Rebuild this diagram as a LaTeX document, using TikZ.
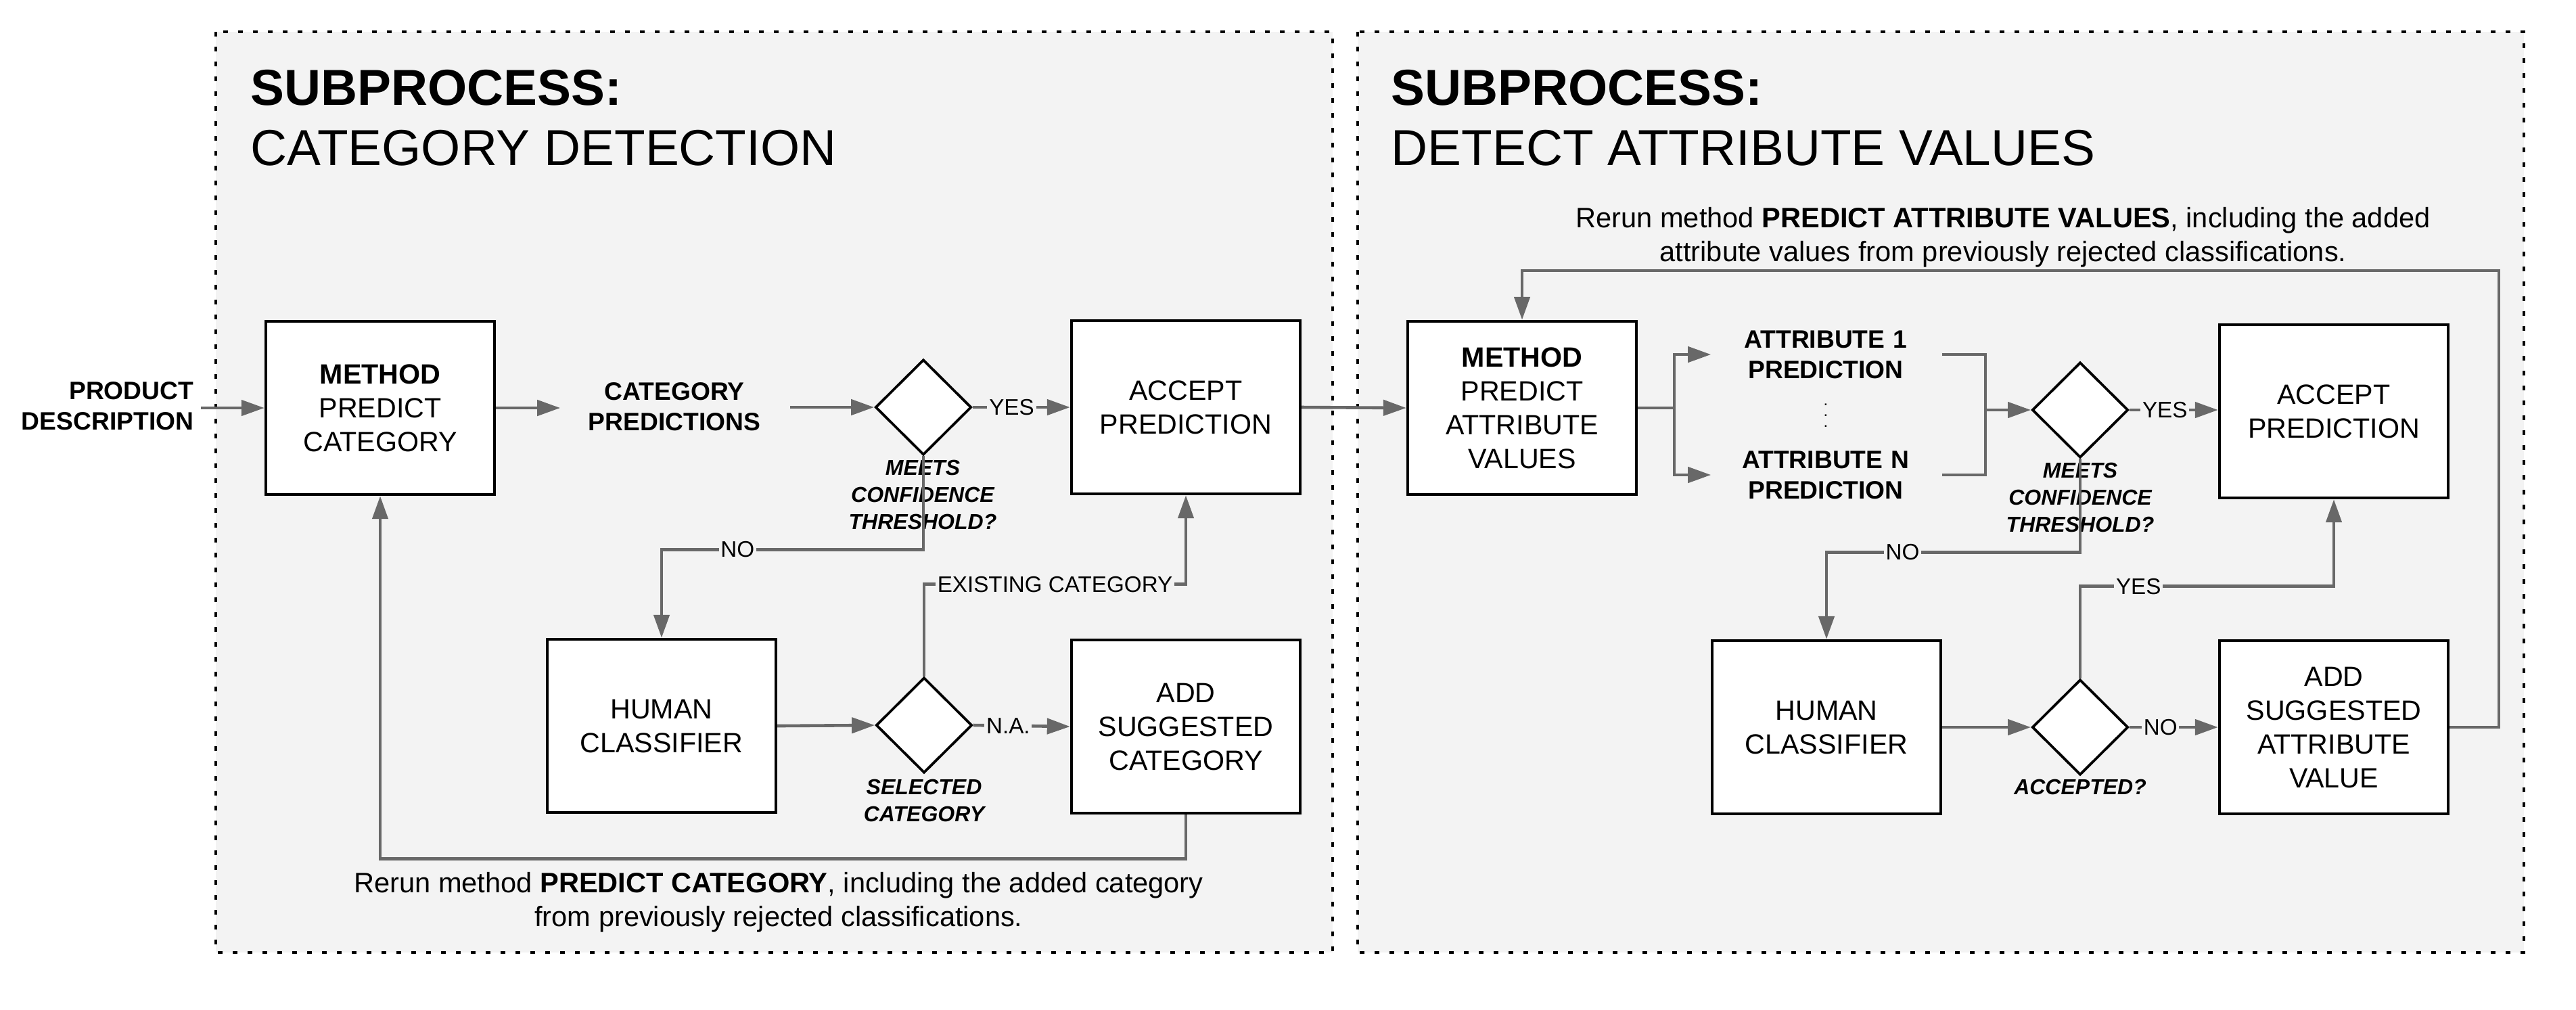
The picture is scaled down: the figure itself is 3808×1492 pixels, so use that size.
\documentclass[tikz,border=0pt]{standalone}
\usepackage{fontspec}
\setmainfont{Liberation Sans}
\usetikzlibrary{shapes.geometric,arrows.meta}
\definecolor{panel}{HTML}{F3F3F3}
\definecolor{conncol}{HTML}{686868}
\begin{document}
\begin{tikzpicture}[x=0.25pt,y=-0.25pt,
  box/.style={draw=black,line width=1.1pt,fill=white,minimum width=84.5pt,minimum height=64pt,inner sep=0pt,align=center,font=\fontsize{10.3}{12.5}\selectfont},
  dia/.style={diamond,draw=black,line width=0.95pt,fill=white,minimum width=35.5pt,minimum height=35.25pt,inner sep=0pt},
  conn/.style={draw=conncol,line width=1.15pt},
  arr/.style={conn,-{Triangle[length=8.5pt,width=5.75pt]}},
  lbl/.style={fill=panel,inner sep=0.7pt,font=\fontsize{8.3}{10}\selectfont},
  qlbl/.style={align=center,inner sep=0pt,font=\fontsize{8}{10}\selectfont\bfseries\itshape},
  plain/.style={align=center,inner sep=0pt,font=\fontsize{9.3}{11.25}\selectfont\bfseries},
  ttl/.style={anchor=base west,inner sep=0pt,font=\fontsize{18.7}{22}\selectfont},
  note/.style={align=center,inner sep=0pt,font=\fontsize{10.4}{12.4}\selectfont},
  panelbox/.style={fill=panel,draw=black,line width=1pt,dash pattern=on 1.75pt off 3.75pt},
]
\fill[white] (0,0) rectangle (3808,1492);
\useasboundingbox (0,0) rectangle (3808,1492);

% panels
\path[panelbox] (319,47) rectangle (1970,1408);
\path[panelbox] (2007,47) rectangle (3731,1408);

% titles
\node[ttl,font=\fontsize{18.7}{22}\selectfont\bfseries] (t1a) at (370,155) {SUBPROCESS:};
\node[ttl] (t1b) at (370,244) {CATEGORY DETECTION};
\node[ttl,font=\fontsize{18.7}{22}\selectfont\bfseries] (t2a) at (2056,155) {SUBPROCESS:};
\node[ttl] (t2b) at (2056,244) {DETECT ATTRIBUTE VALUES};

% ---------- left subprocess ----------
\node[plain,align=right,anchor=east] (pd) at (287,600) {PRODUCT\\DESCRIPTION};
\node[box] (m1) at (562,603) {\textbf{METHOD}\\PREDICT\\CATEGORY};
\node[plain,text width=64pt] (cp) at (997,601) {CATEGORY\\PREDICTIONS};
\node[dia] (d1) at (1365,602) {};
\node[box] (ac1) at (1753,602) {ACCEPT\\PREDICTION};
\node[qlbl] (q1) at (1364,731) {MEETS\\CONFIDENCE\\THRESHOLD?};
\node[box] (hc1) at (978,1073) {HUMAN\\CLASSIFIER};
\node[dia] (d2) at (1366,1072) {};
\node[box] (ad1) at (1753,1074) {ADD\\SUGGESTED\\CATEGORY};
\node[qlbl] (q2) at (1366,1183) {SELECTED\\CATEGORY};
\node[note] (rr1) at (1151,1334) {Rerun method \textbf{PREDICT CATEGORY}, including the added category\\from previously rejected classifications.};

\draw[arr,shorten <=2.5pt] (pd.east |- m1.west) -- (m1.west);
\draw[arr,shorten >=10pt] (m1.east) -- (m1.east -| cp.west);
\draw[arr,shorten <=10.5pt] (cp.east |- d1.west) -- (d1.west);
\draw[arr] (d1.east) -- node[lbl,pos=0.4]{YES} (ac1.west);
\draw[arr] (d1.south) -- ++(0,138) -| node[lbl,pos=0.355]{NO} (hc1.north);
\draw[arr] (hc1.east) -- (d2.west);
\draw[arr] (d2.east) -- node[lbl,pos=0.36]{N.A.} (ad1.west);
\draw[arr] (d2.north) -- ++(0,-136) -| node[lbl,pos=0.25]{EXISTING CATEGORY} (ac1.south);
\draw[arr] (ad1.south) -- ++(0,65) -| (m1.south);

% ---------- right subprocess ----------
\node[box] (m2) at (2250,603) {\textbf{METHOD}\\PREDICT\\ATTRIBUTE\\VALUES};
\node[plain,text width=62pt] (a1) at (2699,524) {ATTRIBUTE 1\\PREDICTION};
\node[inner sep=0pt,font=\fontsize{6}{6}\selectfont] (dots) at (2699,602) {$\vdots$};
\node[plain,text width=62pt] (an) at (2699,702) {ATTRIBUTE N\\PREDICTION};
\node[dia] (d3) at (3075,606) {};
\node[box] (ac2) at (3450,608) {ACCEPT\\PREDICTION};
\node[qlbl] (q3) at (3075,735) {MEETS\\CONFIDENCE\\THRESHOLD?};
\node[box] (hc2) at (2700,1075) {HUMAN\\CLASSIFIER};
\node[dia] (d4) at (3075,1075) {};
\node[box] (ad2) at (3450,1075) {ADD\\SUGGESTED\\ATTRIBUTE\\VALUE};
\node[qlbl] (q4) at (3075,1163) {ACCEPTED?};
\node[note] (rr2) at (2961,351) {Rerun method \textbf{PREDICT ATTRIBUTE VALUES}, including the added\\attribute values from previously rejected classifications.};

\coordinate (fk) at (2475,603);
\coordinate (bk) at (2935,606);
\coordinate (lp) at (3694,400);

\draw[arr] (ac1.east) -- (m2.west);
\draw[conn] (m2.east) -- (fk);
\draw[arr,shorten >=11.25pt] (fk) |- (a1.west);
\draw[arr,shorten >=11.25pt] (fk) |- (an.west);
\draw[conn,shorten <=11.75pt] (a1.east) -| (bk);
\draw[conn,shorten <=11.75pt] (an.east) -| (bk);
\draw[arr] (bk) -- (d3.west);
\draw[arr] (d3.east) -- node[lbl,pos=0.4]{YES} (d3.east -| ac2.west);
\draw[arr] (d3.south) -- ++(0,138) -| node[lbl,pos=0.35]{NO} (hc2.north);
\draw[arr] (hc2.east) -- (d4.west);
\draw[arr] (d4.east) -- node[lbl,pos=0.35]{NO} (ad2.west);
\draw[arr] (d4.north) -- ++(0,-136) -| node[lbl,pos=0.115]{YES} (ac2.south);
\draw[arr] (ad2.east) -| (lp) -| (m2.north);
\end{tikzpicture}
\end{document}
